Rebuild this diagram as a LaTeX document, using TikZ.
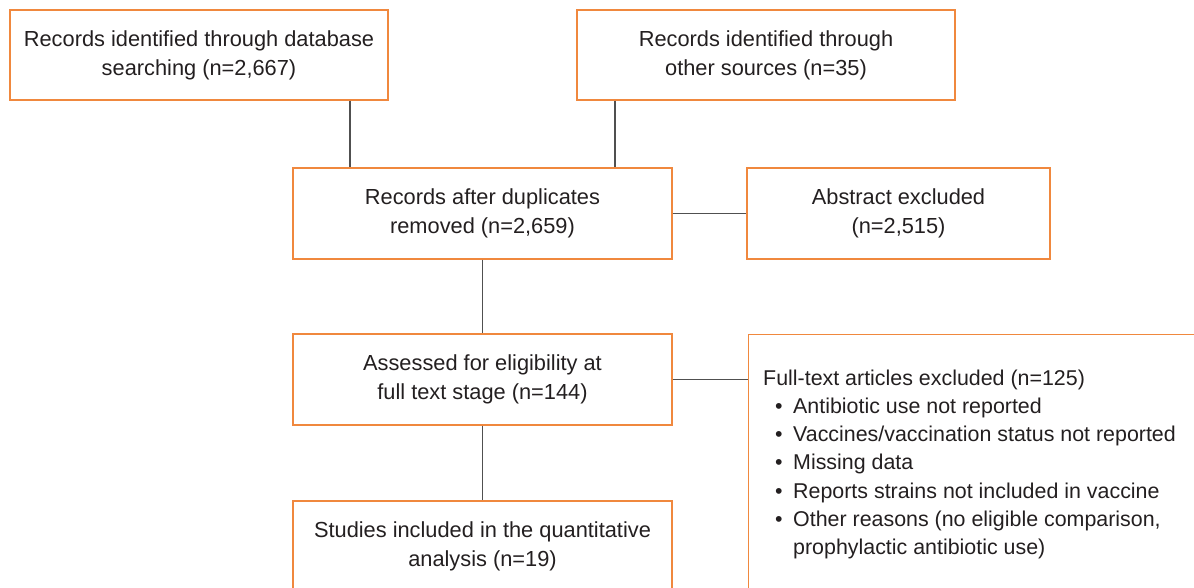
\documentclass[tikz,border=0pt]{standalone}
\usepackage{fontspec}
\setmainfont{Liberation Sans}
\definecolor{boxorange}{RGB}{240,136,62}
\definecolor{linegray}{RGB}{80,80,80}
\definecolor{txtcol}{RGB}{35,31,32}
\newcommand{\itembul}{\makebox[30pt][l]{\hspace*{12pt}•}}
\begin{document}
\begin{tikzpicture}[x=1pt,y=-1pt,
  box/.style={draw=boxorange, line width=1.2pt, rectangle, inner sep=0pt,
    minimum height=91pt, align=center, text=txtcol,
    font=\fontsize{21.8}{29}\selectfont},
  link/.style={draw=linegray, line width=1.8pt}]
\useasboundingbox (0,0) rectangle (1194,587);
\clip (0,0) rectangle (1194,587);
\node[box, minimum width=378pt, minimum height=90pt] (A) at (199,55)
  {Records identified through database\\searching (n=2,667)};
\node[box, minimum width=378pt, minimum height=90pt] (B) at (766,55)
  {Records identified through\\other sources (n=35)};
\node[box, minimum width=379pt] (C) at (482.5,213.5)
  {Records after duplicates\\removed (n=2,659)};
\node[box, minimum width=303pt] (X) at (898.5,213.5)
  {Abstract excluded\\(n=2,515)};
\node[box, minimum width=379pt] (D) at (482.5,379.5)
  {Assessed for eligibility at\\full text stage (n=144)};
\node[box, minimum width=379pt] (E) at (482.5,546.5)
  {Studies included in the quantitative\\analysis (n=19)};
\node[draw=boxorange, line width=1.2pt, rectangle, anchor=north west,
  minimum width=520pt, minimum height=300pt, inner sep=0pt] (F) at (748,334) {};
\node[anchor=north west, align=left, inner sep=0pt, text=txtcol,
  font=\fontsize{21.4}{28.2}\selectfont] (Ftxt) at (763,369.5)
  {Full-text articles excluded (n=125)\\
   \itembul Antibiotic use not reported\\
   \itembul Vaccines/vaccination status not reported\\
   \itembul Missing data\\
   \itembul Reports strains not included in vaccine\\
   \itembul Other reasons (no eligible comparison,\\
   \hspace*{30pt}prophylactic antibiotic use)};
\draw[link] ([xshift=151pt]A.south) -- ([xshift=151pt]A.south |- C.north);
\draw[link] ([xshift=-151pt]B.south) -- ([xshift=-151pt]B.south |- C.north);
\draw[link] (C.east) -- (X.west);
\draw[link] (C.south) -- (D.north);
\draw[link] (D.south) -- (E.north);
\draw[link] (D.east) -- (D.east -| F.west);
\end{tikzpicture}
\end{document}
